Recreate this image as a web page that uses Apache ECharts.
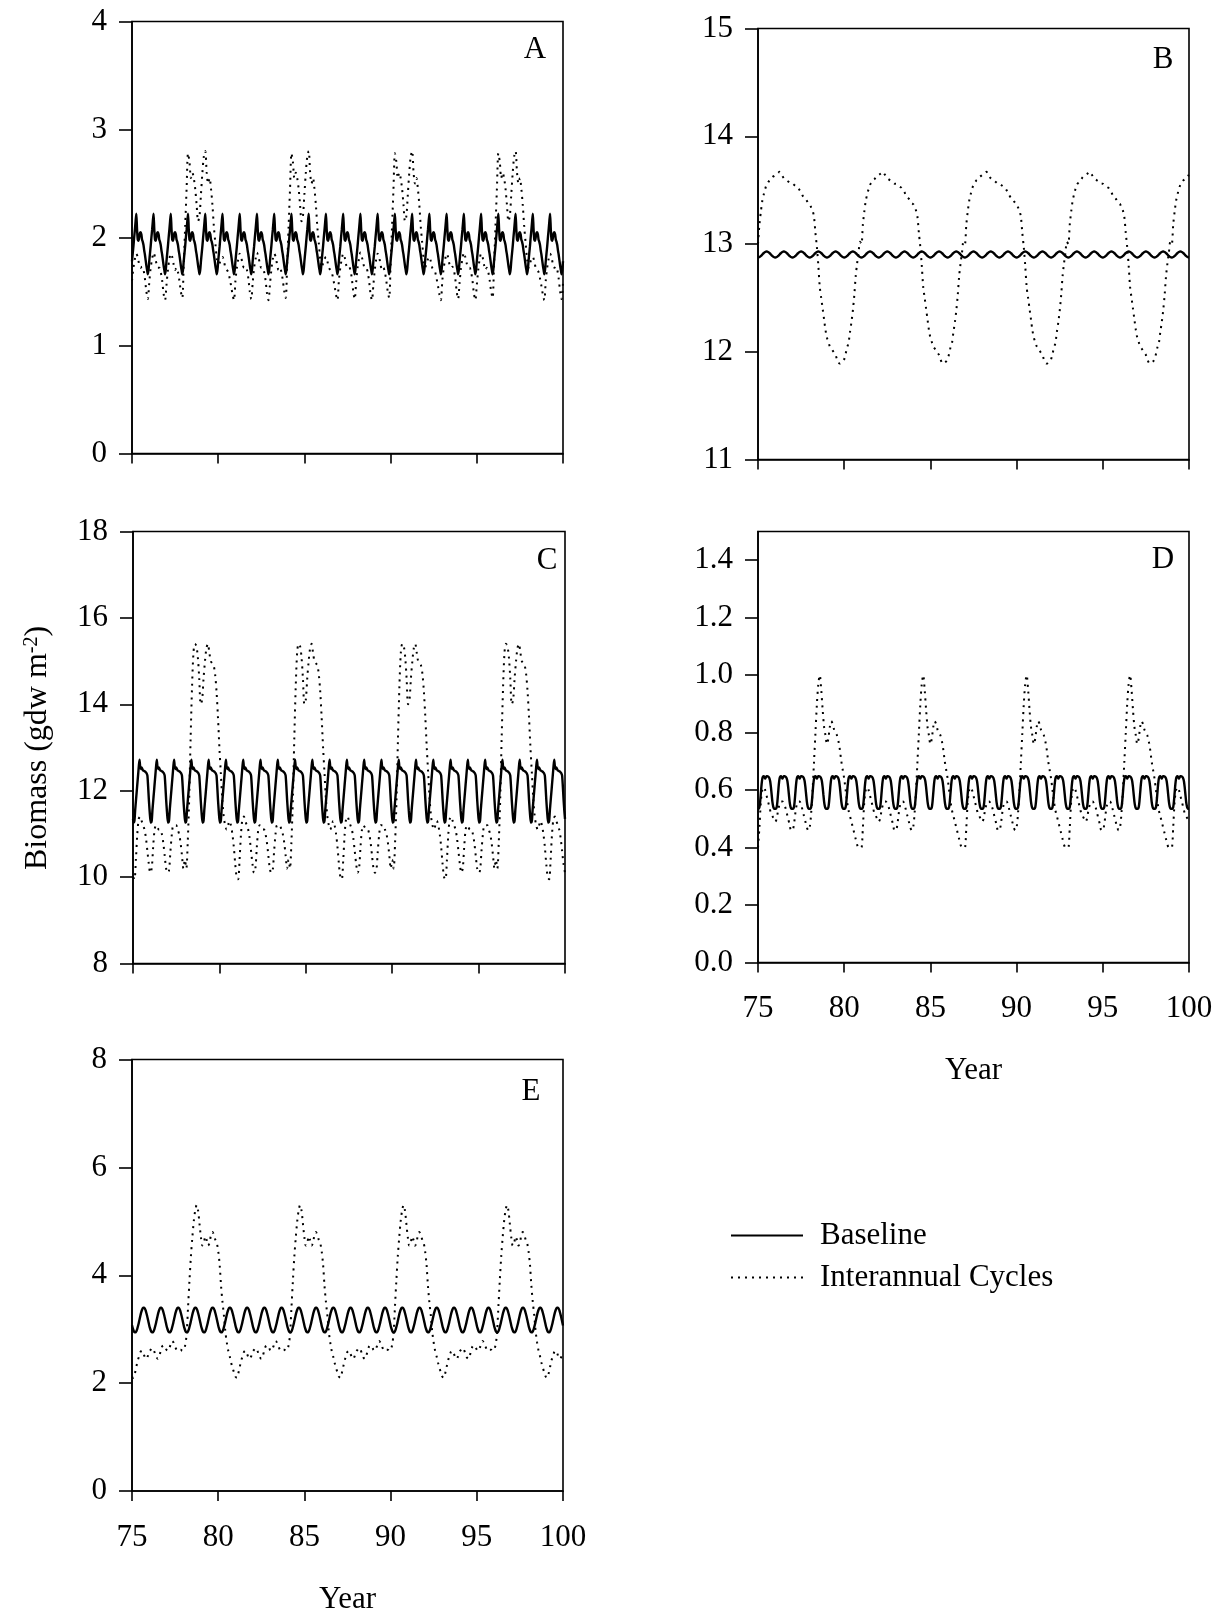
<!DOCTYPE html>
<html><head><meta charset="utf-8">
<script src="https://cdn.jsdelivr.net/npm/echarts@6/dist/echarts.min.js"></script>
<style>html,body{margin:0;padding:0;background:#fff}#c{width:1225px;height:1617px}</style>
</head><body><div id="c"></div>
<script>
// ---------------- DATA ----------------
const xTicks = [75, 80, 85, 90, 95, 100];
const yTicksA = [0, 1, 2, 3, 4];
const yTicksB = [11, 12, 13, 14, 15];
const yTicksC = [8, 10, 12, 14, 16, 18];
const yTicksD = [0, 0.2, 0.4, 0.6, 0.8, 1.0, 1.2, 1.4];
const yTicksE = [0, 2, 4, 6, 8];
const seriesNames = ['Baseline', 'Interannual Cycles'];
const panelLetters = ['A', 'B', 'C', 'D', 'E'];

// Baseline: one annual cycle (24 samples per year), repeats every year of the run
const baseA = [1.78,1.85,1.92,2.00,2.07,2.15,2.22,2.08,1.98,1.97,2.00,2.04,2.05,2.03,1.98,1.96,1.93,1.88,1.84,1.79,1.74,1.70,1.66,1.70];
const baseB = [12.875,12.876,12.879,12.883,12.889,12.895,12.902,12.910,12.916,12.922,12.926,12.929,12.930,12.929,12.926,12.922,12.916,12.910,12.902,12.895,12.889,12.883,12.879,12.876];
const baseC = [11.35,11.26,11.30,11.55,11.75,11.95,12.15,12.35,12.55,12.72,12.55,12.50,12.54,12.50,12.47,12.46,12.45,12.44,12.42,12.40,12.35,12.10,11.80,11.55];
const baseD = [0.535,0.535,0.540,0.560,0.590,0.620,0.640,0.647,0.648,0.645,0.640,0.645,0.648,0.648,0.647,0.645,0.640,0.630,0.610,0.585,0.560,0.545,0.537,0.535];
const baseE = [3.07,3.02,2.98,2.95,2.94,2.94,2.96,2.99,3.04,3.09,3.15,3.21,3.27,3.32,3.36,3.39,3.40,3.40,3.38,3.35,3.30,3.25,3.19,3.13];

// Interannual cycles: one 6-year cycle (12 samples per year), starting at year 75
const cycA = [
 1.60,1.72,1.80,1.85,1.82,1.75,1.72,1.73,1.70,1.62,1.50,1.43,
 1.58,1.72,1.80,1.86,1.82,1.76,1.72,1.72,1.68,1.60,1.48,1.42,
 1.56,1.70,1.80,1.85,1.82,1.75,1.70,1.72,1.68,1.60,1.50,1.44,
 1.75,2.10,2.45,2.78,2.70,2.55,2.60,2.55,2.45,2.30,2.15,2.20,
 2.40,2.60,2.75,2.80,2.60,2.50,2.55,2.45,2.30,2.10,1.95,1.80,
 1.72,1.76,1.80,1.82,1.78,1.72,1.70,1.68,1.62,1.55,1.47,1.42];
const cycB = [
 13.00,13.18,13.30,13.40,13.46,13.51,13.55,13.57,13.59,13.60,13.62,13.63,
 13.64,13.65,13.66,13.67,13.65,13.63,13.61,13.60,13.59,13.58,13.57,13.56,
 13.56,13.55,13.54,13.53,13.52,13.50,13.48,13.45,13.43,13.42,13.40,13.38,
 13.37,13.34,13.31,13.25,13.10,12.97,12.80,12.60,12.50,12.40,12.30,12.20,
 12.13,12.09,12.05,12.03,12.01,11.99,11.97,11.93,11.90,11.89,11.90,11.91,
 11.93,11.98,12.04,12.08,12.18,12.27,12.38,12.52,12.70,12.82,12.92,13.02];
const cycC = [
 10.00,9.95,10.40,11.00,11.35,11.40,11.30,11.20,11.10,10.90,10.60,10.30,
 10.10,10.20,10.70,11.10,11.20,11.15,11.10,11.10,11.00,10.80,10.50,10.20,
 10.10,10.15,10.60,11.00,11.20,11.20,11.20,11.10,11.00,10.80,10.50,10.20,
 10.40,10.20,10.80,11.80,13.20,14.40,15.20,15.40,15.35,15.10,14.60,14.00,
 14.10,14.60,15.00,15.30,15.40,15.20,15.00,14.95,14.90,14.70,14.30,13.70,
 13.00,12.40,11.80,11.40,11.20,11.10,11.20,11.30,11.20,11.00,10.70,10.30];
const cycD = [
 0.40,0.47,0.56,0.60,0.61,0.60,0.58,0.56,0.54,0.52,0.51,0.50,
 0.49,0.50,0.53,0.55,0.56,0.56,0.55,0.54,0.52,0.50,0.48,0.46,
 0.46,0.48,0.52,0.55,0.56,0.56,0.55,0.53,0.51,0.49,0.47,0.46,
 0.47,0.52,0.60,0.70,0.80,0.90,0.97,1.00,0.95,0.88,0.82,0.79,
 0.76,0.78,0.82,0.84,0.83,0.81,0.80,0.79,0.77,0.74,0.70,0.67,
 0.64,0.60,0.56,0.53,0.51,0.49,0.47,0.45,0.43,0.41,0.40,0.40];
const cycE = [
 2.12,2.10,2.18,2.30,2.42,2.50,2.58,2.60,2.55,2.48,2.45,2.50,
 2.58,2.62,2.65,2.62,2.55,2.48,2.45,2.50,2.60,2.68,2.70,2.68,
 2.62,2.60,2.65,2.72,2.78,2.75,2.68,2.62,2.60,2.62,2.62,2.60,
 2.62,2.70,2.90,3.40,3.90,4.35,4.70,5.00,5.20,5.30,5.20,4.95,
 4.70,4.55,4.60,4.72,4.65,4.55,4.60,4.75,4.80,4.75,4.66,4.60,
 4.45,4.20,3.80,3.50,3.25,2.95,2.75,2.60,2.50,2.38,2.28,2.20];

// ---------------- BUILD ----------------
const START = 75, YEARS = 25;
function runSeries(cycle, perYear) {
  const out = [];
  for (let i = 0; i <= YEARS * perYear; i++) out.push([START + i / perYear, cycle[i % cycle.length]]);
  return out;
}
const FONT = '"Liberation Serif","Times New Roman",serif';
const FS = 31;
const BLACK = '#000';
const panels = [
  {base: baseA, cyc: cycA, ticks: yTicksA, grid: {left: 132, top: 21.5, width: 431, height: 432}, xLab: false, letter: [535, 50], dec: 0},
  {base: baseB, cyc: cycB, ticks: yTicksB, grid: {left: 758, top: 28.5, width: 431, height: 431}, xLab: false, letter: [1163, 60], dec: 0},
  {base: baseC, cyc: cycC, ticks: yTicksC, grid: {left: 133, top: 531.5, width: 432, height: 432}, xLab: false, letter: [547, 561], dec: 0},
  {base: baseD, cyc: cycD, ticks: yTicksD, grid: {left: 758, top: 531.5, width: 431, height: 431}, xLab: true, letter: [1163, 560], dec: 1, max: 1.5},
  {base: baseE, cyc: cycE, ticks: yTicksE, grid: {left: 132, top: 1059.5, width: 431, height: 431.5}, xLab: true, letter: [531, 1092], dec: 0}
];
const axisLineStyle = {color: BLACK, width: 1.6};
const grids = [], xAxes = [], yAxes = [], series = [], graphics = [];
panels.forEach((p, i) => {
  grids.push(Object.assign({show: true, borderColor: BLACK, borderWidth: 1.6, containLabel: false, outerBoundsMode: 'none'}, p.grid));
  xAxes.push({
    type: 'value', gridIndex: i, min: xTicks[0], max: xTicks[xTicks.length - 1], interval: 5,
    axisLine: {show: true, onZero: false, lineStyle: axisLineStyle},
    axisTick: {show: true, length: 10, inside: false, lineStyle: axisLineStyle, customValues: xTicks},
    axisLabel: {show: p.xLab, margin: 31, fontSize: FS, fontFamily: FONT, color: BLACK, customValues: xTicks},
    splitLine: {show: false},
    name: p.xLab ? 'Year' : '', nameLocation: 'middle', nameGap: 93,
    nameTextStyle: {fontSize: FS, fontFamily: FONT, color: BLACK, verticalAlign: 'top'}
  });
  const yMin = p.ticks[0], yMax = p.max !== undefined ? p.max : p.ticks[p.ticks.length - 1];
  yAxes.push({
    type: 'value', gridIndex: i, min: yMin, max: yMax, interval: p.ticks[1] - p.ticks[0],
    axisLine: {show: true, onZero: false, lineStyle: axisLineStyle},
    axisTick: {show: true, length: 13, inside: false, lineStyle: axisLineStyle, customValues: p.ticks},
    axisLabel: {margin: 25, fontSize: FS, fontFamily: FONT, color: BLACK, customValues: p.ticks,
      formatter: v => Number(v).toFixed(p.dec)},
    splitLine: {show: false}
  });
  series.push({
    name: seriesNames[1], type: 'line', xAxisIndex: i, yAxisIndex: i, data: runSeries(p.cyc, 12),
    showSymbol: false, symbol: 'none', smooth: 0.3, animation: false, silent: true,
    itemStyle: {color: BLACK},
    lineStyle: {color: BLACK, width: 2, type: [2, 5]}, z: 2
  });
  series.push({
    name: seriesNames[0], type: 'line', xAxisIndex: i, yAxisIndex: i, data: runSeries(p.base, 24),
    showSymbol: false, symbol: 'none', smooth: 0.25, animation: false, silent: true,
    itemStyle: {color: BLACK},
    lineStyle: {color: BLACK, width: 2.4, type: 'solid'}, z: 3
  });
  graphics.push({type: 'text', x: p.letter[0], y: p.letter[1],
    style: {text: panelLetters[i], font: FS + 'px ' + FONT, fill: BLACK, align: 'center', verticalAlign: 'middle'}});
});
graphics.push({type: 'text', x: 38, y: 748, rotation: Math.PI / 2,
  style: {text: 'Biomass (gdw m{sup|-2})', font: '32px ' + FONT, fill: BLACK, align: 'center', verticalAlign: 'middle',
    rich: {sup: {fontSize: 20, fontFamily: FONT, fill: BLACK, verticalAlign: 'top', lineHeight: 32}}}});

const chart = echarts.init(document.getElementById('c'), null, {renderer: 'canvas'});
chart.setOption({
  backgroundColor: '#fff',
  animation: false,
  grid: grids, xAxis: xAxes, yAxis: yAxes, series: series, graphic: graphics,
  legend: {
    data: seriesNames, orient: 'vertical', left: 725, top: 1215,
    itemWidth: 72, itemHeight: 30, itemGap: 11, selectedMode: false,
    itemStyle: {color: 'rgba(0,0,0,0)', borderWidth: 0, opacity: 0},
    textStyle: {fontSize: FS, fontFamily: FONT, color: BLACK, padding: [0, 0, 0, 12]}
  }
});
</script></body></html>
